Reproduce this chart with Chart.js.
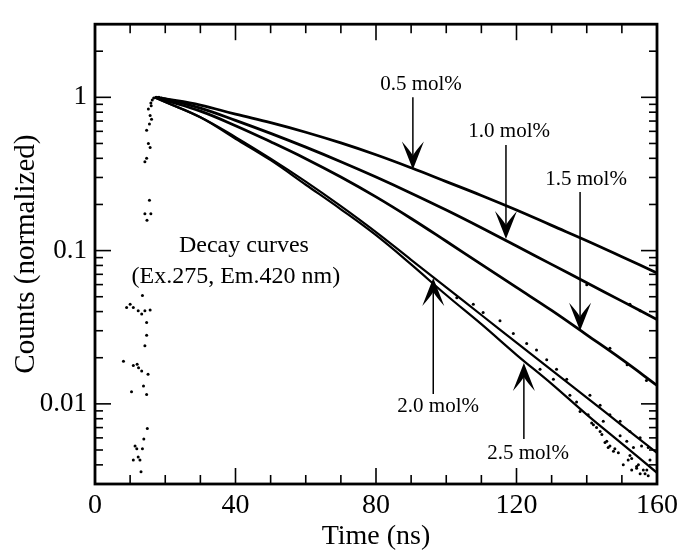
<!DOCTYPE html>
<html>
<head>
<meta charset="utf-8">
<script src="https://cdn.jsdelivr.net/npm/chart.js@4.4.1/dist/chart.umd.min.js"></script>
<style>
  html, body { margin: 0; padding: 0; background: #fff; }
  canvas { display: block; }
</style>
</head>
<body>
<canvas id="decayChart" width="684" height="552"></canvas>
<script>
// time axis of the decay traces (ns)
const timeGrid = [17, 20, 30, 40, 50, 60, 70, 80, 90, 100, 110, 120, 130, 140, 150, 160];
// normalized counts
const counts05 = [1.0, 0.977, 0.891, 0.776, 0.684, 0.592, 0.504, 0.422, 0.347, 0.282, 0.229, 0.184, 0.146, 0.116, 0.0912, 0.0714];
const counts10 = [1.0, 0.977, 0.851, 0.708, 0.582, 0.473, 0.380, 0.302, 0.237, 0.184, 0.141, 0.107, 0.0813, 0.0617, 0.0468, 0.0355];
const counts15 = [1.0, 0.955, 0.813, 0.653, 0.513, 0.398, 0.302, 0.224, 0.162, 0.115, 0.0813, 0.0575, 0.0407, 0.0282, 0.0195, 0.0132];
const counts20 = [1.0, 0.933, 0.741, 0.550, 0.398, 0.282, 0.195, 0.132, 0.0871, 0.0575, 0.0380, 0.0251, 0.0166, 0.0110, 0.00724, 0.00479];
const counts25 = [1.0, 0.933, 0.741, 0.537, 0.389, 0.269, 0.186, 0.126, 0.0813, 0.0513, 0.0331, 0.0209, 0.0135, 0.00851, 0.00550, 0.00355];

// stray points before and during the excitation pulse
const pulseTime = [8.1, 9.0, 10.0, 10.9, 12.3, 13.3, 14.2, 15.7, 13.5, 14.7, 14.7, 14.2, 10.9, 12.0, 12.4, 13.3, 15.1, 10.4, 13.8, 14.7,
  14.9, 13.9, 11.4, 11.9, 13.5, 10.9, 12.3, 12.8, 13.1,
  14.2, 14.7, 15.2, 15.7, 14.7, 15.5, 16.1, 15.7, 15.2, 15.5, 14.2, 15.9, 14.8,
  15.9, 16.3, 16.7, 17.4, 18.2, 19.0, 16.0];
const pulseCounts = [0.019, 0.0425, 0.0446, 0.0425, 0.0405, 0.0386, 0.0405, 0.041, 0.051, 0.034, 0.028, 0.0239, 0.0178, 0.0181, 0.0172, 0.0164, 0.0156, 0.0120, 0.0131, 0.0115,
  0.0069, 0.0059, 0.0053, 0.0051, 0.0051, 0.0043, 0.0045, 0.0043, 0.0036,
  0.38, 0.40, 0.50, 0.47, 0.61, 0.67, 0.72, 0.76, 0.84, 0.213, 0.174, 0.174, 0.158,
  0.92, 0.96, 0.99, 1.0, 1.0, 0.99, 0.88];

// noisy points around the tails
const tailTime = [103, 107.7, 110.5, 115.3, 119.1, 122.9, 125.7, 126.7, 128.6, 130.5, 131.4, 134.3, 135.2, 137.1, 138.1, 140.4,
  141.9, 143.8, 144.7, 145.7, 146.6, 148, 149.5, 150.4, 151.4, 152.8, 153.3, 154.2, 155.2, 155.6, 157.1, 158,
  141.4, 142.8, 144.3, 145.2, 146.1, 147.6, 149, 151.8, 152.3, 154.7, 156.1, 156.6, 157.5, 154.2, 152.8,
  140.9, 143.8, 146.6, 149.5, 152.3, 155.2, 157.5,
  140, 152.3, 155.2, 146.6, 151.5, 157];
const tailCounts = [0.0492, 0.0446, 0.0395, 0.0349, 0.0288, 0.0248, 0.0225, 0.0168, 0.0194, 0.0145, 0.0168, 0.0145, 0.0114, 0.0103, 0.0089, 0.0085,
  0.0073, 0.0066, 0.0077, 0.0057, 0.0053, 0.0051, 0.0062, 0.0040, 0.0057, 0.0044, 0.0052, 0.0039, 0.0035, 0.0053, 0.0037, 0.0043,
  0.0075, 0.0070, 0.0063, 0.0056, 0.0052, 0.0049, 0.0048, 0.0043, 0.0046, 0.0040, 0.0037, 0.0035, 0.0034, 0.0038, 0.0037,
  0.0114, 0.0098, 0.0085, 0.0077, 0.0066, 0.0060, 0.0052,
  0.0598, 0.0446, 0.0405, 0.0231, 0.0180, 0.0142];

const xTickValues = [0, 10, 20, 30, 40, 50, 60, 70, 80, 90, 100, 110, 120, 130, 140, 150, 160];
const xLabelled = [0, 40, 80, 120, 160];
const yTickValues = [0.003, 0.004, 0.005, 0.006, 0.007, 0.008, 0.009, 0.01, 0.02, 0.03, 0.04, 0.05, 0.06, 0.07, 0.08, 0.09,
  0.1, 0.2, 0.3, 0.4, 0.5, 0.6, 0.7, 0.8, 0.9, 1, 2, 3];
const yLabelled = [0.01, 0.1, 1];

// arrows: time, tail value, tip value
const arrows = [
  { t: 90.5, from: 1.0, to: 0.338 },
  { t: 117.0, from: 0.488, to: 0.119 },
  { t: 138.1, from: 0.241, to: 0.030 },
  { t: 96.3, from: 0.0116, to: 0.0663 },
  { t: 122.1, from: 0.0059, to: 0.0185 }
];
const notes = [
  { t: 92.8, v: 1.21, text: '0.5 mol%', size: 21 },
  { t: 117.9, v: 0.598, text: '1.0 mol%', size: 21 },
  { t: 139.8, v: 0.292, text: '1.5 mol%', size: 21 },
  { t: 97.7, v: 0.00957, text: '2.0 mol%', size: 21 },
  { t: 123.3, v: 0.00473, text: '2.5 mol%', size: 21 },
  { t: 42.4, v: 0.1076, text: 'Decay curves', size: 24 },
  { t: 40.1, v: 0.0673, text: '(Ex.275, Em.420 nm)', size: 24 }
];

const serif = "'Liberation Serif', 'DejaVu Serif', serif";

function trace(values, width) {
  return {
    type: 'line',
    data: timeGrid.map((t, i) => ({ x: t, y: values[i] })),
    borderColor: '#000',
    borderWidth: width,
    pointRadius: 0,
    tension: 0.4,
    fill: false
  };
}

function dots(ts, vs) {
  return {
    type: 'scatter',
    data: ts.map((t, i) => ({ x: t, y: vs[i] })),
    backgroundColor: '#000',
    borderWidth: 0,
    pointRadius: 1.5
  };
}

const frameAndMarks = {
  id: 'frameAndMarks',
  afterDatasetsDraw(chart) {
    const { ctx, chartArea: a, scales: { x, y } } = chart;
    const seg = (x1, y1, x2, y2) => { ctx.beginPath(); ctx.moveTo(x1, y1); ctx.lineTo(x2, y2); ctx.stroke(); };
    ctx.save();
    ctx.strokeStyle = '#000';
    ctx.fillStyle = '#000';

    // inward ticks
    ctx.lineWidth = 1.6;
    xTickValues.forEach(v => {
      if (v === 0 || v === 160) return;
      const px = x.getPixelForValue(v);
      const len = xLabelled.includes(v) ? 16 : 9;
      seg(px, a.bottom, px, a.bottom - len);
      seg(px, a.top, px, a.top + len);
    });
    yTickValues.forEach(v => {
      if (v === 0.003 || v === 3) return;
      const py = y.getPixelForValue(v);
      const len = yLabelled.includes(v) ? 16 : 8;
      seg(a.left, py, a.left + len, py);
      seg(a.right, py, a.right - len, py);
    });
    ctx.lineWidth = 2.8;
    ctx.strokeRect(a.left, a.top, a.right - a.left, a.bottom - a.top);

    // arrows
    arrows.forEach(ar => {
      const px = x.getPixelForValue(ar.t);
      const p0 = y.getPixelForValue(ar.from);
      const p1 = y.getPixelForValue(ar.to);
      const dir = p1 > p0 ? 1 : -1;
      ctx.lineWidth = 1.5;
      seg(px, p0, px, p1 - dir * 14);
      ctx.beginPath();
      ctx.moveTo(px, p1);
      ctx.lineTo(px - 11, p1 - dir * 28);
      ctx.quadraticCurveTo(px - 3, p1 - dir * 19, px, p1 - dir * 14);
      ctx.quadraticCurveTo(px + 3, p1 - dir * 19, px + 11, p1 - dir * 28);
      ctx.closePath();
      ctx.fill();
    });

    // text notes
    ctx.textAlign = 'center';
    ctx.textBaseline = 'middle';
    notes.forEach(n => {
      ctx.font = n.size + 'px ' + serif;
      ctx.fillText(n.text, x.getPixelForValue(n.t), y.getPixelForValue(n.v));
    });
    ctx.restore();
  }
};

new Chart(document.getElementById('decayChart'), {
  data: {
    datasets: [
      trace(counts05, 2.8),
      trace(counts10, 2.8),
      trace(counts15, 2.8),
      trace(counts20, 2.2),
      trace(counts25, 2.2),
      dots(pulseTime, pulseCounts),
      dots(tailTime, tailCounts)
    ]
  },
  options: {
    responsive: false,
    animation: false,
    layout: { padding: { left: 0, right: 27, top: 14, bottom: 0 } },
    plugins: { legend: { display: false }, tooltip: { enabled: false } },
    scales: {
      x: {
        type: 'linear',
        min: 0,
        max: 160,
        afterBuildTicks: s => { s.ticks = xTickValues.map(v => ({ value: v })); },
        afterFit: s => { s.height = 68; },
        grid: { display: false, drawTicks: false },
        border: { display: false },
        ticks: {
          padding: 5,
          maxRotation: 0,
          autoSkip: false,
          color: '#000',
          font: { family: serif, size: 28 },
          callback: v => xLabelled.includes(v) ? String(v) : ''
        },
        title: {
          display: true,
          text: 'Time (ns)',
          color: '#000',
          font: { family: serif, size: 28, lineHeight: 1 },
          padding: { top: 0, bottom: 1 }
        }
      },
      y: {
        type: 'logarithmic',
        min: 0.003,
        max: 3,
        afterBuildTicks: s => { s.ticks = yTickValues.map(v => ({ value: v })); },
        afterFit: s => { s.width = 95; },
        grid: { display: false, drawTicks: false },
        border: { display: false },
        ticks: {
          padding: 8,
          autoSkip: false,
          color: '#000',
          font: { family: serif, size: 27 },
          callback: v => yLabelled.includes(v) ? String(v) : ''
        },
        title: {
          display: true,
          text: 'Counts (normalized)',
          color: '#000',
          font: { family: serif, size: 29, lineHeight: 1 },
          padding: { top: 12, bottom: 0 }
        }
      }
    }
  },
  plugins: [frameAndMarks]
});
</script>
</body>
</html>
